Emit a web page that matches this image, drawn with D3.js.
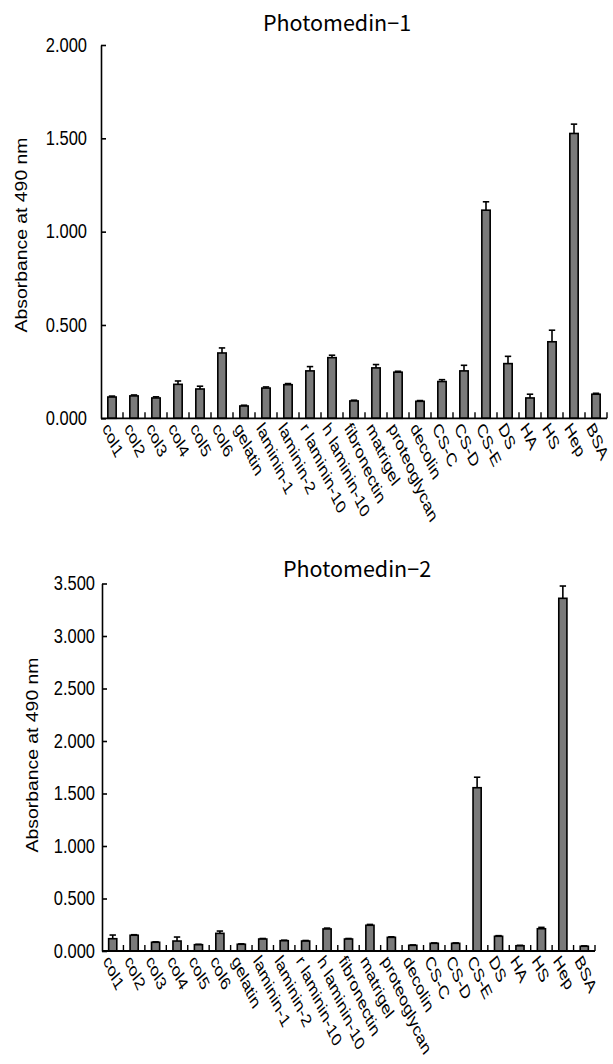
<!DOCTYPE html>
<html>
<head>
<meta charset="utf-8">
<script src="https://cdn.jsdelivr.net/npm/d3@7"></script>
<style>
  html, body { margin: 0; padding: 0; background: #fff; }
  svg { display: block; }
</style>
</head>
<body>
<svg id="chart" width="613" height="1064"></svg>
<script>
const categories = ["col1","col2","col3","col4","col5","col6","gelatin","laminin-1","laminin-2","r laminin-10","h laminin-10","fibronectin","matrigel","proteoglycan","decolin","CS-C","CS-D","CS-E","DS","HA","HS","Hep","BSA"];

const pm1Values = [0.114, 0.120, 0.109, 0.182, 0.157, 0.350, 0.066, 0.162, 0.180, 0.254, 0.325, 0.093, 0.270, 0.247, 0.091, 0.197, 0.254, 1.115, 0.293, 0.109, 0.410, 1.526, 0.129];
const pm1Errors = [0.005, 0.005, 0.006, 0.018, 0.015, 0.027, 0.004, 0.006, 0.006, 0.023, 0.013, 0.004, 0.018, 0.005, 0.004, 0.010, 0.030, 0.045, 0.039, 0.020, 0.062, 0.050, 0.005];

const pm2Values = [0.117, 0.150, 0.083, 0.095, 0.060, 0.168, 0.064, 0.114, 0.098, 0.095, 0.210, 0.114, 0.245, 0.130, 0.054, 0.073, 0.073, 1.555, 0.140, 0.050, 0.212, 3.359, 0.045];
const pm2Errors = [0.035, 0.005, 0.004, 0.038, 0.004, 0.022, 0.004, 0.005, 0.005, 0.005, 0.008, 0.005, 0.008, 0.005, 0.004, 0.004, 0.004, 0.100, 0.006, 0.004, 0.013, 0.117, 0.004];

const pm1Ticks = [0, 0.5, 1.0, 1.5, 2.0];
const pm2Ticks = [0, 0.5, 1.0, 1.5, 2.0, 2.5, 3.0, 3.5];

const titles = ["Photomedin\u22121", "Photomedin\u22122"];
const yTitle = "Absorbance at 490 nm";

const svg = d3.select("#chart");
const fmt = d3.format(".3f");
const FONT = "Arial, 'Liberation Sans', Helvetica, sans-serif";

function drawChart(cfg) {
  const g = svg.append("g");
  const x = d3.scaleBand().domain(categories).range([cfg.x0, cfg.x1]).padding(0);
  const y = d3.scaleLinear().domain([0, cfg.yMax]).range([cfg.yBase, cfg.yTop]);
  const bw = x.bandwidth();
  const barW = bw * 0.38;
  const data = categories.map((c, i) => ({c, v: cfg.values[i], e: cfg.errors[i]}));

  // error bars
  const eb = g.append("g").attr("stroke", "#000").attr("stroke-width", 1.6);
  data.forEach(d => {
    const cx = x(d.c) + bw / 2;
    eb.append("line").attr("x1", cx).attr("x2", cx).attr("y1", y(d.v)).attr("y2", y(d.v + d.e));
    eb.append("line").attr("x1", cx - 3.2).attr("x2", cx + 3.2).attr("y1", y(d.v + d.e)).attr("y2", y(d.v + d.e));
  });

  // bars
  g.append("g").selectAll("rect").data(data).join("rect")
    .attr("x", d => x(d.c) + (bw - barW) / 2)
    .attr("y", d => y(d.v))
    .attr("width", barW)
    .attr("height", d => y(0) - y(d.v))
    .attr("fill", "#7a7a7a")
    .attr("stroke", "#000")
    .attr("stroke-width", 1.6);

  // y axis
  const yAxis = d3.axisLeft(y).tickValues(cfg.ticks).tickFormat(fmt).tickSizeInner(-5).tickSizeOuter(0).tickPadding(cfg.tickPad);
  const ya = g.append("g").attr("transform", `translate(${cfg.x0},0)`).call(yAxis);
  ya.select(".domain").attr("stroke", "#000").attr("stroke-width", 1.6);
  ya.selectAll(".tick line").attr("stroke", "#000").attr("stroke-width", 1.6);
  ya.selectAll(".tick text")
    .attr("font-family", FONT).attr("font-size", 16.5).attr("fill", "#000")
    .attr("dy", "0.3em")
    .attr("transform", "scale(1,1.25)");

  // x axis with boundary ticks pointing up
  const xa = g.append("g");
  xa.append("line").attr("x1", cfg.x0).attr("x2", cfg.x1).attr("y1", y(0)).attr("y2", y(0))
    .attr("stroke", "#000").attr("stroke-width", 1.8);
  categories.forEach(c => {
    const bx = x(c) + bw;
    xa.append("line").attr("x1", bx).attr("x2", bx).attr("y1", y(0)).attr("y2", y(0) - 6)
      .attr("stroke", "#000").attr("stroke-width", 1.4);
  });

  // x labels
  g.append("g").selectAll("text").data(categories).join("text")
    .attr("transform", c => `translate(${x(c) + bw / 2 - 10},${y(0) + 10}) scale(1,1.4) rotate(58)`)
    .attr("font-family", FONT)
    .attr("font-size", 14)
    .attr("fill", "#000")
    .text(c => c);

  // y title
  g.append("text")
    .attr("transform", `translate(${cfg.yTitleX},${cfg.yTitleY}) scale(1,1.14) rotate(-90)`)
    .attr("text-anchor", "middle")
    .attr("font-family", FONT)
    .attr("font-size", 17)
    .attr("fill", "#000")
    .text(yTitle);

  // title
  g.append("text")
    .attr("x", cfg.titleX).attr("y", cfg.titleY)
    .attr("text-anchor", "middle")
    .attr("font-family", "'Noto Sans CJK JP', 'Noto Sans', sans-serif")
    .attr("font-size", 21.5)
    .attr("fill", "#000")
    .text(cfg.title);
}

drawChart({
  values: pm1Values, errors: pm1Errors, ticks: pm1Ticks, yMax: 2.0,
  x0: 101, x1: 607, yBase: 418.3, yTop: 45, tickPad: 14,
  yTitleX: 27, yTitleY: 235, titleX: 337, titleY: 31, title: titles[0]
});

drawChart({
  values: pm2Values, errors: pm2Errors, ticks: pm2Ticks, yMax: 3.5,
  x0: 102, x1: 595, yBase: 951, yTop: 583.5, tickPad: 7,
  yTitleX: 38, yTitleY: 755, titleX: 357, titleY: 577, title: titles[1]
});
</script>
</body>
</html>
